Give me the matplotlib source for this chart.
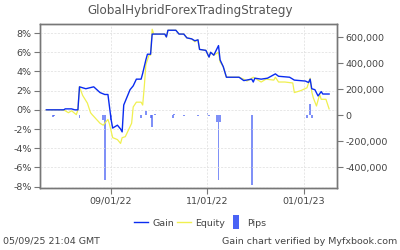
import matplotlib
matplotlib.use('Agg')
import matplotlib.pyplot as plt
import matplotlib.ticker as ticker
from matplotlib.lines import Line2D
import pandas as pd

TITLE = "GlobalHybridForexTradingStrategy"

# ── Gain (%) ─────────────────────────────────────────────────────────────────
gain_dates = ['2022-07-22', '2022-08-02', '2022-08-03', '2022-08-07', '2022-08-09',
              '2022-08-11', '2022-08-12', '2022-08-16', '2022-08-21', '2022-08-25',
              '2022-08-28', '2022-08-30', '2022-09-01', '2022-09-02', '2022-09-05',
              '2022-09-07', '2022-09-08', '2022-09-09', '2022-09-13', '2022-09-15',
              '2022-09-17', '2022-09-20', '2022-09-21', '2022-09-23', '2022-09-24',
              '2022-09-26', '2022-09-27', '2022-10-05', '2022-10-06', '2022-10-07',
              '2022-10-12', '2022-10-14', '2022-10-17', '2022-10-19', '2022-10-22',
              '2022-10-24', '2022-10-26', '2022-10-27', '2022-10-31', '2022-11-02',
              '2022-11-03', '2022-11-05', '2022-11-08', '2022-11-09', '2022-11-11',
              '2022-11-13', '2022-11-21', '2022-11-24', '2022-11-29', '2022-11-30',
              '2022-12-01', '2022-12-05', '2022-12-09', '2022-12-14', '2022-12-16',
              '2022-12-23', '2022-12-26', '2023-01-02', '2023-01-04', '2023-01-05',
              '2023-01-06', '2023-01-08', '2023-01-10', '2023-01-12', '2023-01-13',
              '2023-01-17']
gain_vals = [0.0, 0.0, 0.1, 0.1, 0.0,
             0.0, 2.4, 2.2, 2.4, 1.8,
             1.6, 1.6, -1.0, -1.9, -1.6,
             -2.0, -2.3, 0.5, 2.1, 2.5,
             3.2, 3.2, 3.8, 5.2, 5.8,
             5.8, 7.9, 7.9, 7.6, 8.3,
             8.3, 7.9, 7.9, 7.5, 7.4,
             7.2, 7.3, 6.3, 6.2, 5.5,
             6.0, 5.7, 6.7, 5.2, 4.5,
             3.4, 3.4, 3.05, 3.2, 2.9,
             3.3, 3.2, 3.3, 3.75, 3.5,
             3.4, 3.1, 3.0, 2.85, 3.2,
             2.2, 2.1, 1.45, 1.9, 1.65,
             1.65]

# ── Equity (%) ───────────────────────────────────────────────────────────────
eq_dates = ['2022-07-22', '2022-08-02', '2022-08-03', '2022-08-05', '2022-08-07',
            '2022-08-10', '2022-08-11', '2022-08-12', '2022-08-14', '2022-08-17',
            '2022-08-19', '2022-08-20', '2022-08-25', '2022-08-27', '2022-08-30',
            '2022-08-31', '2022-09-02', '2022-09-05', '2022-09-07', '2022-09-08',
            '2022-09-10', '2022-09-14', '2022-09-15', '2022-09-17', '2022-09-20',
            '2022-09-21', '2022-09-22', '2022-09-23', '2022-09-25', '2022-09-26',
            '2022-09-27', '2022-09-28', '2022-10-05', '2022-10-06', '2022-10-07',
            '2022-10-12', '2022-10-14', '2022-10-17', '2022-10-19', '2022-10-22',
            '2022-10-24', '2022-10-26', '2022-10-27', '2022-10-31', '2022-11-02',
            '2022-11-03', '2022-11-05', '2022-11-08', '2022-11-09', '2022-11-11',
            '2022-11-13', '2022-11-21', '2022-11-24', '2022-11-26', '2022-11-30',
            '2022-12-05', '2022-12-08', '2022-12-13', '2022-12-14', '2022-12-16',
            '2022-12-20', '2022-12-25', '2022-12-26', '2022-12-30', '2023-01-03',
            '2023-01-05', '2023-01-06', '2023-01-07', '2023-01-09', '2023-01-11',
            '2023-01-12', '2023-01-15', '2023-01-17']
eq_vals = [0.0, 0.0, -0.1, -0.3, -0.1,
           -0.5, 0.0, 2.4, 1.5, 0.7,
           -0.3, -0.5, -1.4, -1.6, -1.0,
           -1.5, -2.9, -3.1, -3.5, -2.9,
           -2.8, -1.4, 0.3, 0.8, 0.8,
           0.5, 2.4, 4.7, 5.7, 5.7,
           8.4, 7.9, 7.9, 7.6, 8.3,
           8.3, 7.9, 7.9, 7.5, 7.4,
           7.1, 7.3, 6.3, 6.2, 5.5,
           6.0, 5.7, 6.0, 5.0, 4.5,
           3.4, 3.4, 3.2, 3.0, 3.4,
           2.9, 3.2, 3.1, 3.4, 2.9,
           2.9, 2.8, 1.8, 2.0, 2.3,
           3.3, 1.9, 1.25, 0.4, 1.6,
           1.1, 1.1, 0.1]

# ── Pips (right axis) ────────────────────────────────────────────────────────
pip_dates = ['2022-07-26', '2022-07-27', '2022-08-12', '2022-08-27', '2022-08-28',
             '2022-09-01', '2022-09-20', '2022-09-23', '2022-09-26', '2022-09-27',
             '2022-09-29', '2022-10-10', '2022-10-11', '2022-10-17', '2022-10-26',
             '2022-11-01', '2022-11-02', '2022-11-07', '2022-11-08', '2022-11-09',
             '2022-11-29', '2023-01-03', '2023-01-05', '2023-01-06']
pip_vals = [-15000, -10000, -20000, -40000, -500000,
            -40000, -20000, 30000, -20000, -90000,
            10000, -25000, 8000, -5000, -5000,
            15000, -5000, -55000, -500000, -55000,
            -540000, -25000, 85000, -25000]

x_ticks = ['2022-09-01', '2022-11-01', '2023-01-01']
x_ticklabels = ['09/01/22', '11/01/22', '01/01/23']
left_ticks = [8, 6, 4, 2, 0, -2, -4, -6, -8]
right_ticks = [600000, 400000, 200000, 0, -200000, -400000]

GAIN_C = '#0a2cf0'
EQ_C = '#f0f050'
PIP_C = '#4a63f5'
TXT_C = '#444444'
AX_C = '#777777'

plt.rcParams.update({'font.family': 'DejaVu Sans', 'font.size': 6.8})

fig = plt.figure(figsize=(4.0, 2.5), dpi=100)
ax = fig.add_axes([0.1, 0.248, 0.7425, 0.656])
ax2 = ax.twinx()
ax.set_zorder(ax2.get_zorder() + 1)
ax.patch.set_visible(False)

ax2.bar(pd.to_datetime(pip_dates), pip_vals, width=1.2, color=PIP_C,
        alpha=0.7, linewidth=0)
ax.plot(pd.to_datetime(eq_dates), eq_vals, color=EQ_C, lw=0.9)
ax.plot(pd.to_datetime(gain_dates), gain_vals, color=GAIN_C, lw=1.0)

ax.set_xlim(pd.Timestamp('2022-07-18'), pd.Timestamp('2023-01-22'))
ax.set_ylim(-8.15, 8.95)
ax2.set_ylim(-561000, 700000)

ax.set_yticks(left_ticks)
ax.yaxis.set_major_formatter(ticker.FuncFormatter(lambda v, p: f'{v:.0f}%'))
ax2.set_yticks(right_ticks)
ax2.yaxis.set_major_formatter(ticker.FuncFormatter(lambda v, p: f'{v:,.0f}'))
ax.set_xticks(pd.to_datetime(x_ticks))
ax.set_xticklabels(x_ticklabels)

ax.grid(True, linestyle=(0, (3, 2)), linewidth=0.5, color='#dddddd')
for a in (ax, ax2):
    for s in a.spines.values():
        s.set_color(AX_C)
        s.set_linewidth(1.0)
    a.tick_params(colors=AX_C, labelcolor=TXT_C, length=4, width=0.8,
                  labelsize=6.8, pad=2)

fig.text(0.475, 0.958, TITLE, ha='center', va='center', fontsize=8.6,
         color='#555555')

# legend: two line keys and a narrow upright swatch for pips
pip_key = [(-0.4, -1), (0.4, -1), (0.4, 1), (-0.4, 1)]
handles = [Line2D([0], [0], color=GAIN_C, lw=1.0),
           Line2D([0], [0], color=EQ_C, lw=1.0),
           Line2D([0], [0], ls='none', marker=pip_key, markersize=10,
                  color=PIP_C, markeredgewidth=0)]
fig.legend(handles, ['Gain', 'Equity', 'Pips'], loc='center',
           bbox_to_anchor=(0.5, 0.108), ncol=3, frameon=False,
           fontsize=6.8, handlelength=1.5, handleheight=0.9,
           handletextpad=0.45, columnspacing=0.35, labelcolor=TXT_C)

fig.text(0.008, 0.035, '05/09/25 21:04 GMT', ha='left', va='center',
         fontsize=6.8, color=TXT_C)
fig.text(0.993, 0.035, 'Gain chart verified by Myfxbook.com', ha='right',
         va='center', fontsize=6.8, color=TXT_C)

fig.savefig('out.png', dpi=100)
